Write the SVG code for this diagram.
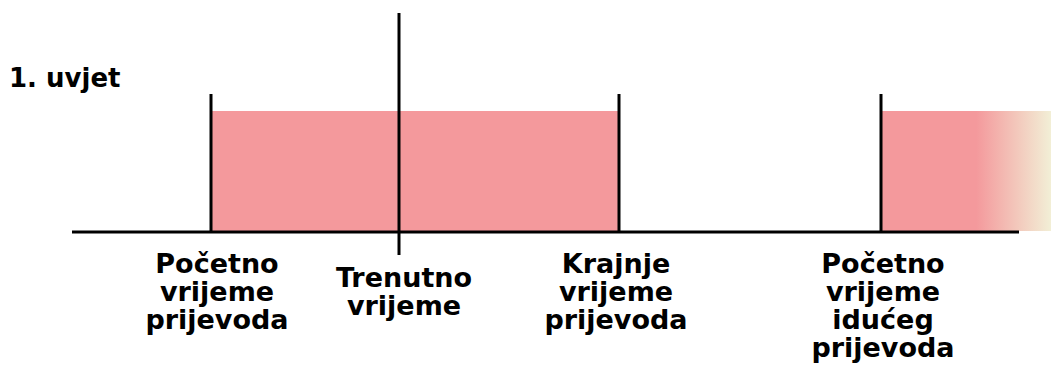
<svg xmlns="http://www.w3.org/2000/svg" width="1051" height="370" viewBox="0 0 1051 370">
<style>
.t{font-family:"DejaVu Sans",Verdana,sans-serif;font-weight:bold;font-size:27px;fill:#000;text-anchor:middle}
.ln{stroke:#000;stroke-width:3;fill:none}
</style>
<defs>
<linearGradient id="fade" x1="881" y1="0" x2="1051" y2="0" gradientUnits="userSpaceOnUse">
<stop offset="0" stop-color="#f4999c"/>
<stop offset="0.56" stop-color="#f4999c"/>
<stop offset="1" stop-color="#f2efd6"/>
</linearGradient>
</defs>
<rect width="1051" height="370" fill="#fff"/>
<text x="9" y="87" style="font-family:'DejaVu Sans',Verdana,sans-serif;font-weight:bold;font-size:26px">1. uvjet</text>
<g id="interval1"><rect x="212" y="111" width="407" height="121" fill="#f4999c"/></g>
<g id="interval2"><rect x="881" y="111" width="170" height="120" fill="url(#fade)"/></g>
<g id="connectors">
<line class="ln" x1="72" y1="232" x2="1019" y2="232"/>
<line class="ln" x1="211" y1="94" x2="211" y2="232"/>
<line class="ln" x1="399" y1="13" x2="399" y2="255"/>
<line class="ln" x1="619" y1="94" x2="619" y2="232"/>
<line class="ln" x1="881" y1="94" x2="881" y2="232"/>
</g>
<g id="label-start"><text class="t" x="217" y="273">Početno</text><text class="t" x="217" y="301">vrijeme</text><text class="t" x="217" y="329">prijevoda</text></g>
<g id="label-current"><text class="t" x="404" y="287">Trenutno</text><text class="t" x="404" y="315">vrijeme</text></g>
<g id="label-end"><text class="t" x="616" y="273">Krajnje</text><text class="t" x="616" y="301">vrijeme</text><text class="t" x="616" y="329">prijevoda</text></g>
<g id="label-next"><text class="t" x="883" y="273">Početno</text><text class="t" x="883" y="301">vrijeme</text><text class="t" x="883" y="329">idućeg</text><text class="t" x="883" y="357">prijevoda</text></g>
</svg>
